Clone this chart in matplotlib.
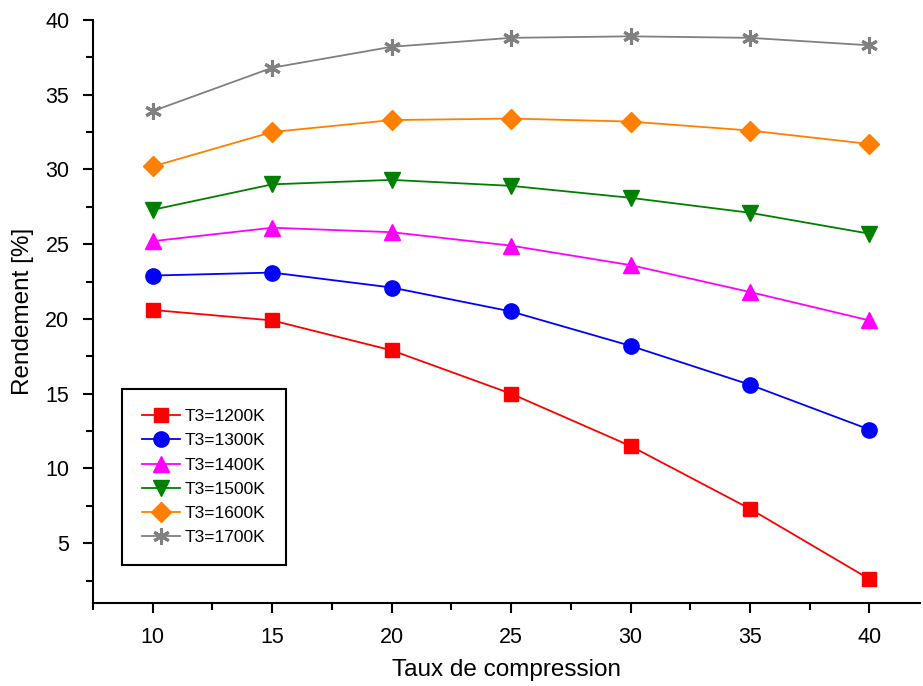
import matplotlib
matplotlib.use("Agg")
import matplotlib.pyplot as plt
from matplotlib.ticker import MultipleLocator

plt.rcParams['font.family'] = ['Liberation Sans', 'DejaVu Sans']

# taux de compression
taux = [10, 15, 20, 25, 30, 35, 40]

# rendement [%] pour chaque T3
r_1200 = [20.6, 19.9, 17.9, 15.0, 11.5, 7.3, 2.6]
r_1300 = [22.9, 23.1, 22.1, 20.5, 18.2, 15.6, 12.6]
r_1400 = [25.2, 26.1, 25.8, 24.9, 23.6, 21.8, 19.9]
r_1500 = [27.3, 29.0, 29.3, 28.9, 28.1, 27.1, 25.7]
r_1600 = [30.2, 32.5, 33.3, 33.4, 33.2, 32.6, 31.7]
r_1700 = [33.9, 36.8, 38.2, 38.8, 38.9, 38.8, 38.3]

labels = ['T3=1200K', 'T3=1300K', 'T3=1400K', 'T3=1500K', 'T3=1600K', 'T3=1700K']

fig = plt.figure(figsize=(9.23, 6.86), dpi=100)
ax = fig.add_axes([0.1008, 0.121, 0.8955, 0.85])

series = [r_1200, r_1300, r_1400, r_1500, r_1600, r_1700]
colors = ['#ff0000', '#0000ff', '#ff00ff', '#008000', '#ff8000', '#808080']
markers = ['s', 'o', '^', 'v', 'D', '*']
sizes = [10, 11, 11, 11, 10, 12]

for ys, c, m, s, lab in zip(series, colors, markers, sizes, labels):
    if m == '*':
        ax.plot(taux, ys, color=c, lw=1.3, marker=(6, 2, 0), markersize=s,
                markeredgewidth=2.2, label=lab)
    else:
        ax.plot(taux, ys, color=c, lw=1.3, marker=m, markersize=s,
                markeredgecolor=c, label=lab)

ax.set_xlim(7.5, 42.1)
ax.set_ylim(1, 40)
ax.xaxis.set_major_locator(MultipleLocator(5))
ax.xaxis.set_minor_locator(MultipleLocator(2.5))
ax.yaxis.set_major_locator(MultipleLocator(5))
ax.yaxis.set_minor_locator(MultipleLocator(2.5))
ax.set_yticks([5, 10, 15, 20, 25, 30, 35, 40])

for side in ['top', 'right']:
    ax.spines[side].set_visible(False)
for side in ['left', 'bottom']:
    ax.spines[side].set_linewidth(1.5)

ax.tick_params(which='major', direction='out', length=7, width=1.5, labelsize=15.5, pad=10)
ax.tick_params(which='minor', direction='out', length=5, width=1.5)

ax.set_xlabel('Taux de compression', fontsize=17.5, labelpad=8)
ax.set_ylabel('Rendement [%]', fontsize=17.5, labelpad=8)

leg = ax.legend(loc='lower left', bbox_to_anchor=(0.024, 0.05), fontsize=12.5,
                fancybox=False, edgecolor='black', framealpha=1,
                handlelength=2.2, handletextpad=0.3, labelspacing=0.52,
                borderpad=1.15)
leg.get_frame().set_linewidth(1.5)

fig.savefig('out.png', dpi=100)
